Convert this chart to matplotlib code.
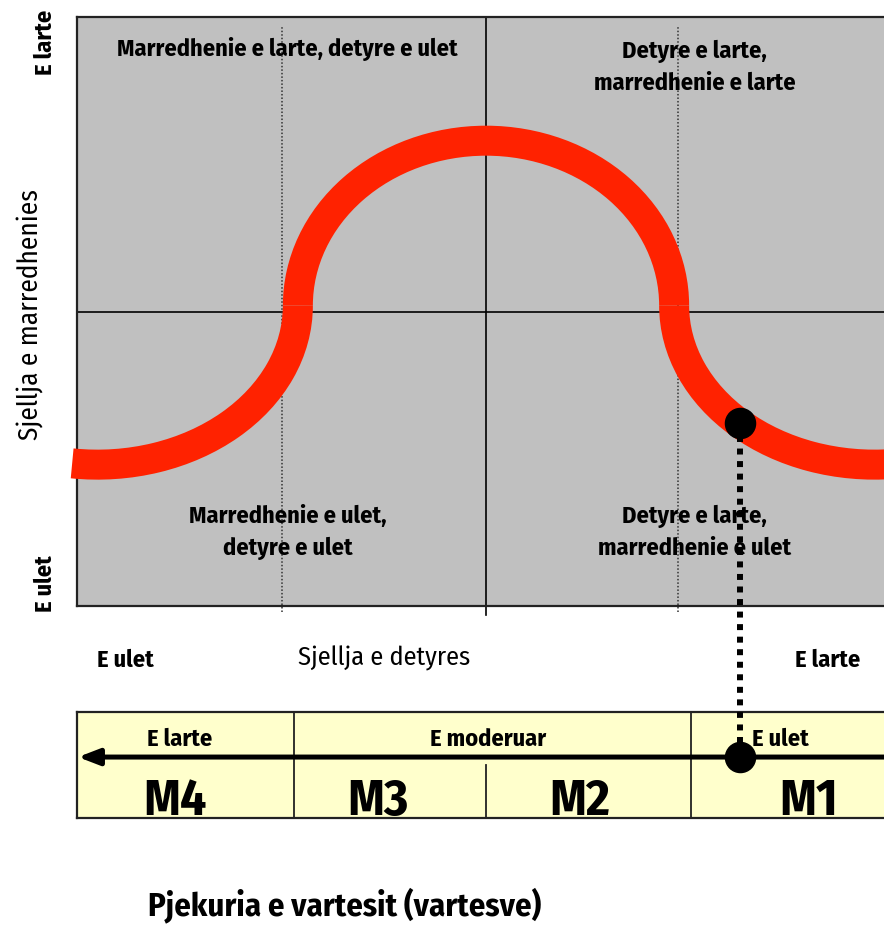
import matplotlib.pyplot as plt
from matplotlib.patches import Arc, ConnectionPatch
import numpy as np

plt.rcParams['font.family'] = ['Fira Sans Condensed', 'DejaVu Sans']

# quadrant captions (main grid: x 0..4 task behaviour, y 0..2 relationship behaviour)
quad_labels = ['Marredhenie e larte, detyre e ulet',
               'Detyre e larte,\nmarredhenie e larte',
               'Marredhenie e ulet,\ndetyre e ulet',
               'Detyre e larte,\nmarredhenie e ulet']
quad_x = [1.03, 3.02, 1.03, 3.02]
quad_y = [1.89, 1.83, 0.25, 0.25]

dotted_x = [1.0, 2.94]

# leadership curve pieces: centre x, centre y, width, height, theta1, theta2
curve_arcs = [(2.00, 1.02, 1.84, 1.12, 0, 180),
              (0.10, 1.02, 1.96, 1.08, 257, 360),
              (3.90, 1.02, 1.96, 1.08, 180, 280)]
dot_x = 3.242

# maturity table
maturity_labels = ['E larte', 'E moderuar', 'E ulet']
maturity_x = [0.50, 2.01, 3.44]
maturity_bounds = [1.06, 3.0]
style_labels = ['M4', 'M3', 'M2', 'M1']
style_x = [0.48, 1.47, 2.46, 3.58]
arrow_y = 0.575

fig = plt.figure(figsize=(8.84, 9.27), dpi=100)

ax = fig.add_axes([77 / 884, 321 / 927, 818 / 884, 589 / 927])
ax.set_xlim(0, 4)
ax.set_ylim(0, 2)
ax.set_facecolor('#c0c0c0')
ax.set_xticks([])
ax.set_yticks([])
for s in ax.spines.values():
    s.set_linewidth(1.6)
    s.set_color('#222222')

ax.plot([2, 2], [-0.03, 2], color='k', lw=1.2, clip_on=False, zorder=2)
ax.plot([0, 4], [1, 1], color='k', lw=1.2, zorder=2)
for x in dotted_x:
    ax.plot([x, x], [-0.02, 1.966], color='#333333', lw=1.1,
            linestyle=(0, (1, 1.3)), clip_on=False, zorder=2)

for cx, cy, w, h, t1, t2 in curve_arcs:
    ax.add_patch(Arc((cx, cy), w, h, theta1=t1, theta2=t2, lw=21.6,
                     color='#ff2200', capstyle='butt', clip_on=False, zorder=3))

# dot on the right arc
cx, cy, w, h, _, _ = curve_arcs[2]
dot_y = cy - (h / 2) * np.sqrt(1 - ((dot_x - cx) / (w / 2)) ** 2)
ax.scatter([dot_x], [dot_y], s=470, color='k', zorder=5, clip_on=False)

for lab, x, y in zip(quad_labels, quad_x, quad_y):
    ax.text(x, y, lab, ha='center', va='center', fontsize=17.5,
            fontweight='bold', linespacing=1.5)

ax.text(-0.156, 1.915, 'E larte', rotation=90, ha='center', va='center',
        fontsize=17.5, fontweight='bold')
ax.text(-0.156, 0.075, 'E ulet', rotation=90, ha='center', va='center',
        fontsize=17.5, fontweight='bold')
ax.text(-0.23, 0.99, 'Sjellja e marredhenies', rotation=90, ha='center',
        va='center', fontsize=19.5)
ax.text(0.235, -0.183, 'E ulet', ha='center', va='center', fontsize=17.5,
        fontweight='bold')
ax.text(1.5, -0.177, 'Sjellja e detyres', ha='center', va='center', fontsize=19)
ax.text(3.67, -0.183, 'E larte', ha='center', va='center', fontsize=17.5,
        fontweight='bold')

# table
tab = fig.add_axes([77 / 884, 109 / 927, 818 / 884, 106 / 927])
tab.set_xlim(0, 4)
tab.set_ylim(0, 1)
tab.set_facecolor('#ffffcc')
tab.set_xticks([])
tab.set_yticks([])
for s in tab.spines.values():
    s.set_linewidth(1.6)
    s.set_color('#222222')
for x in maturity_bounds:
    tab.plot([x, x], [0, 1], color='#222222', lw=1.3)
tab.plot([2, 2], [0, 0.5], color='#222222', lw=1.3)

tab.annotate('', xy=(0.005, arrow_y), xytext=(4.2, arrow_y),
             arrowprops=dict(arrowstyle='-|>,head_length=0.7,head_width=0.27',
                             mutation_scale=18, lw=3.6, color='k',
                             shrinkA=0, shrinkB=0))

for lab, x in zip(maturity_labels, maturity_x):
    tab.text(x, 0.68, lab, ha='center', va='baseline', fontsize=17.5,
             fontweight='bold')
for lab, x in zip(style_labels, style_x):
    tab.text(x, 0.03, lab, ha='center', va='baseline', fontsize=37,
             fontweight='bold')

tab.scatter([dot_x], [arrow_y], s=470, color='k', zorder=5, clip_on=False)

con = ConnectionPatch(xyA=(dot_x, dot_y), coordsA=ax.transData,
                      xyB=(dot_x, arrow_y), coordsB=tab.transData,
                      lw=4.3, linestyle=(0, (1, 1.1)), color='k',
                      capstyle='butt')
fig.add_artist(con)

fig.text(345 / 884, 1 - 905 / 927, 'Pjekuria e vartesit (vartesve)',
         ha='center', va='center', fontsize=23.5, fontweight='bold')

fig.savefig('out.png', dpi=100)
